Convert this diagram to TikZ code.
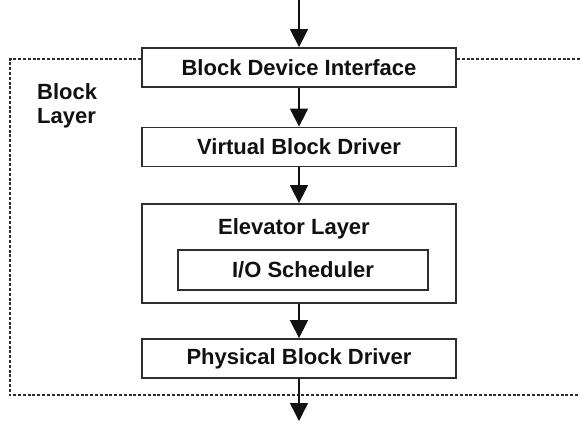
\documentclass[tikz,border=0pt]{standalone}
\usepackage{fontspec}
\setmainfont{Liberation Sans}
\usetikzlibrary{arrows.meta}
\definecolor{ink}{HTML}{111111}
\definecolor{edge}{HTML}{2E2E2E}
\begin{document}
\begin{tikzpicture}[x=1pt,y=-1pt,
  txt/.style={font=\fontsize{22}{24}\selectfont\bfseries, text=ink},
  blockbox/.style={draw=edge, line width=1.8pt, fill=white, inner sep=0pt, minimum width=314pt, minimum height=39pt, txt},
  flow/.style={draw=ink, line width=1.5pt, -{Triangle[length=18pt,width=18pt]}},
  dashline/.style={draw=edge, line width=1.5pt, dash pattern=on 3pt off 1.8pt}
]
\useasboundingbox (0,0) rectangle (580,423);
% dashed layer frame
\coordinate (tl) at (10,59);
\coordinate (tr) at (580,59);
\coordinate (bl) at (10,395);
\coordinate (br) at (580,395);
\node[txt, align=left, anchor=north west, inner sep=0pt] (lbl) at (37,83) {Block\\Layer};

\node[blockbox] (b1) at (299,67.5) {Block Device Interface};
\node[blockbox] (b2) at (299,147) {Virtual Block Driver};
\node[blockbox, minimum height=99pt] (b3) at (299,253.5) {};
\node[txt, inner sep=0pt] (b3t) at (294,229) {Elevator Layer};
\node[blockbox, minimum width=250pt, minimum height=40pt] (io) at (303,270) {I/O Scheduler};
\node[blockbox] (b4) at (299,358.5) {Physical Block Driver};

\draw[dashline] (b1.west |- tl) -- (tl) -- (bl) -- (br);
\draw[dashline] (b1.east |- tr) -- (tr);

\coordinate (in) at (299,0);
\coordinate (out) at (299,421);
\draw[flow] (in) -- (b1.north);
\draw[flow] (b1.south) -- (b2.north);
\draw[flow] (b2.south) -- (b3.north);
\draw[flow] (b3.south) -- (b4.north);
\draw[flow] (b4.south) -- (out);
\end{tikzpicture}
\end{document}
